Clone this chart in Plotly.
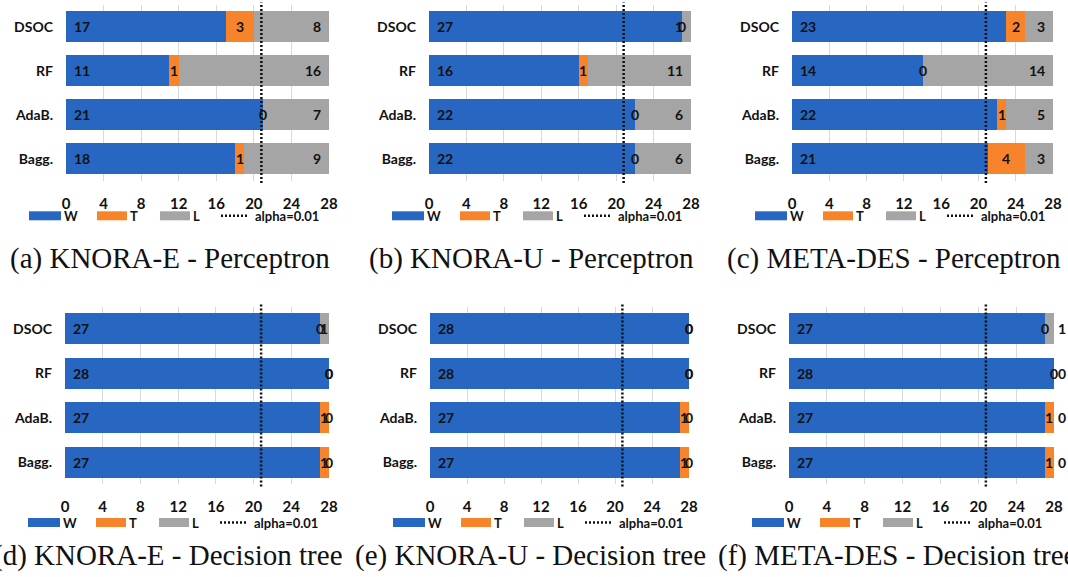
import plotly.graph_objects as go

# ---------------- data ----------------
categories = ["DSOC", "RF", "AdaB.", "Bagg."]
x_ticks = [0, 4, 8, 12, 16, 20, 24, 28]
alpha_critical = 20.8
series_names = ["W", "T", "L"]

captions = [
    "(a) KNORA-E - Perceptron",
    "(b) KNORA-U - Perceptron",
    "(c) META-DES - Perceptron",
    "(d) KNORA-E - Decision tree",
    "(e) KNORA-U - Decision tree",
    "(f) META-DES - Decision tree",
]

wins_a = [17, 11, 21, 18]
ties_a = [3, 1, 0, 1]
losses_a = [8, 16, 7, 9]

wins_b = [27, 16, 22, 22]
ties_b = [0, 1, 0, 0]
losses_b = [1, 11, 6, 6]

wins_c = [23, 14, 22, 21]
ties_c = [2, 0, 1, 4]
losses_c = [3, 14, 5, 3]

wins_d = [27, 28, 27, 27]
ties_d = [0, 0, 1, 1]
losses_d = [1, 0, 0, 0]

wins_e = [28, 28, 27, 27]
ties_e = [0, 0, 1, 1]
losses_e = [0, 0, 0, 0]

wins_f = [27, 28, 27, 27]
ties_f = [0, 0, 1, 1]
losses_f = [1, 0, 0, 0]

panels_data = [
    (wins_a, ties_a, losses_a),
    (wins_b, ties_b, losses_b),
    (wins_c, ties_c, losses_c),
    (wins_d, ties_d, losses_d),
    (wins_e, ties_e, losses_e),
    (wins_f, ties_f, losses_f),
]

# ---------------- layout / style ----------------
W, H = 1068, 577
COL_W, COL_T, COL_L = "#2767C2", "#F7842A", "#A5A5A5"
SANS = "Lato"
SERIF = "Liberation Serif"

# pixel geometry of each panel:
# (x_left, x_right, y_top, y_bottom, L-label mode, caption centre x, legend y, caption y)
geom = [
    (66, 329, 4.7, 180.8, "end", 170, 215.8, 258.5),
    (429, 691, 4.7, 180.8, "end", 531, 215.8, 258.5),
    (792, 1053, 4.7, 180.8, "end", 894, 215.8, 258.5),
    (65, 329, 306.6, 484.4, "center", 168, 522.5, 555.0),
    (430, 689, 306.6, 484.4, "center", 530, 522.5, 555.0),
    (789, 1054, 306.6, 484.4, "outside", 897, 522.5, 555.0),
]


def fx(p):
    return p / W


def fy(p):
    return 1 - p / H


fig = go.Figure()
shapes = []
annotations = []
lab_font = dict(family=SANS, size=14, color="#111111", weight="bold")
leg_font = dict(family=SANS, size=13, color="#111111", weight="bold")

for i, ((wins, ties, losses), (xl, xr, yt, yb, lmode, capx, ly, capy)) in enumerate(zip(panels_data, geom)):
    n = i + 1
    xa = "x" if n == 1 else f"x{n}"
    ya = "y" if n == 1 else f"y{n}"
    xkey = "xaxis" if n == 1 else f"xaxis{n}"
    ykey = "yaxis" if n == 1 else f"yaxis{n}"

    for name, vals, col in zip(series_names, (wins, ties, losses), (COL_W, COL_T, COL_L)):
        fig.add_trace(go.Bar(
            x=vals, y=categories, orientation="h", name=name,
            marker=dict(color=col, line=dict(width=0)),
            xaxis=xa, yaxis=ya, showlegend=False, hoverinfo="x+y+name",
        ))

    fig.layout[xkey] = dict(
        domain=[fx(xl), fx(xr)], anchor=ya, range=[0, 28], automargin=False,
        tickvals=x_ticks, ticktext=[str(t) for t in x_ticks],
        showgrid=True, gridcolor="#D9D9D9", gridwidth=1,
        zeroline=False, showline=False, ticks="",
        tickfont=dict(family=SANS, size=15, color="#111111", weight="bold"),
        ticklabelstandoff=12, fixedrange=True,
    )
    fig.layout[ykey] = dict(
        domain=[fy(yb), fy(yt)], anchor=xa, type="category", automargin=False,
        categoryorder="array", categoryarray=categories, autorange="reversed",
        showgrid=False, zeroline=False, showline=False, ticks="",
        tickfont=dict(family=SANS, size=14, color="#111111", weight="bold"),
        ticklabelstandoff=12, fixedrange=True,
    )

    # alpha = 0.01 critical value line
    shapes.append(dict(
        type="line", xref=xa, yref=f"{ya} domain",
        x0=alpha_critical, x1=alpha_critical, y0=-0.012, y1=1.012,
        line=dict(color="#111111", width=2.5, dash="2px,2px"),
    ))

    # data labels
    for cat, w, t, l in zip(categories, wins, ties, losses):
        annotations.append(dict(x=0, y=cat, xref=xa, yref=ya, text=str(w), showarrow=False,
                                xanchor="left", xshift=6, font=lab_font))
        annotations.append(dict(x=w + t / 2, y=cat, xref=xa, yref=ya, text=str(t), showarrow=False,
                                xanchor="center", font=lab_font))
        end = w + t + l
        if lmode == "end":
            annotations.append(dict(x=end, y=cat, xref=xa, yref=ya, text=str(l), showarrow=False,
                                    xanchor="right", xshift=-6, font=lab_font))
        elif lmode == "center":
            annotations.append(dict(x=w + t + l / 2, y=cat, xref=xa, yref=ya, text=str(l), showarrow=False,
                                    xanchor="center", font=lab_font))
        else:
            annotations.append(dict(x=end, y=cat, xref=xa, yref=ya, text=str(l), showarrow=False,
                                    xanchor="left", xshift=2, font=lab_font))

    # per-panel legend row
    items = [(-37, -5, COL_W, "W"), (31, 61, COL_T, "T"), (94, 124, COL_L, "L")]
    for a0, a1, col, txt in items:
        shapes.append(dict(type="rect", xref="paper", yref="paper",
                           x0=fx(xl + a0), x1=fx(xl + a1), y0=fy(ly + 4.5), y1=fy(ly - 4.5),
                           fillcolor=col, line=dict(width=0)))
        annotations.append(dict(x=fx(xl + a1 + 1), y=fy(ly), xref="paper", yref="paper",
                                text=txt, showarrow=False, xanchor="left", yanchor="middle",
                                font=leg_font))
    shapes.append(dict(type="line", xref="paper", yref="paper",
                       x0=fx(xl + 155), x1=fx(xl + 183), y0=fy(ly), y1=fy(ly),
                       line=dict(color="#111111", width=2.5, dash="2px,2px")))
    annotations.append(dict(x=fx(xl + 187), y=fy(ly), xref="paper", yref="paper",
                            text="alpha=0.01", showarrow=False, xanchor="left", yanchor="middle",
                            font=leg_font))

    # caption
    annotations.append(dict(x=fx(capx), y=fy(capy), xref="paper", yref="paper",
                            text=captions[i], showarrow=False, xanchor="center", yanchor="middle",
                            font=dict(family=SERIF, size=29, color="#111111")))

fig.update_layout(
    width=W, height=H, margin=dict(l=0, r=0, t=0, b=0),
    barmode="stack", bargap=0.295,
    paper_bgcolor="white", plot_bgcolor="white",
    shapes=shapes, annotations=annotations, showlegend=False,
)

fig.write_html(
    "out.html",
    config={"displayModeBar": False},
    post_script="document.body.style.margin='0';document.body.style.overflow='hidden';",
)
